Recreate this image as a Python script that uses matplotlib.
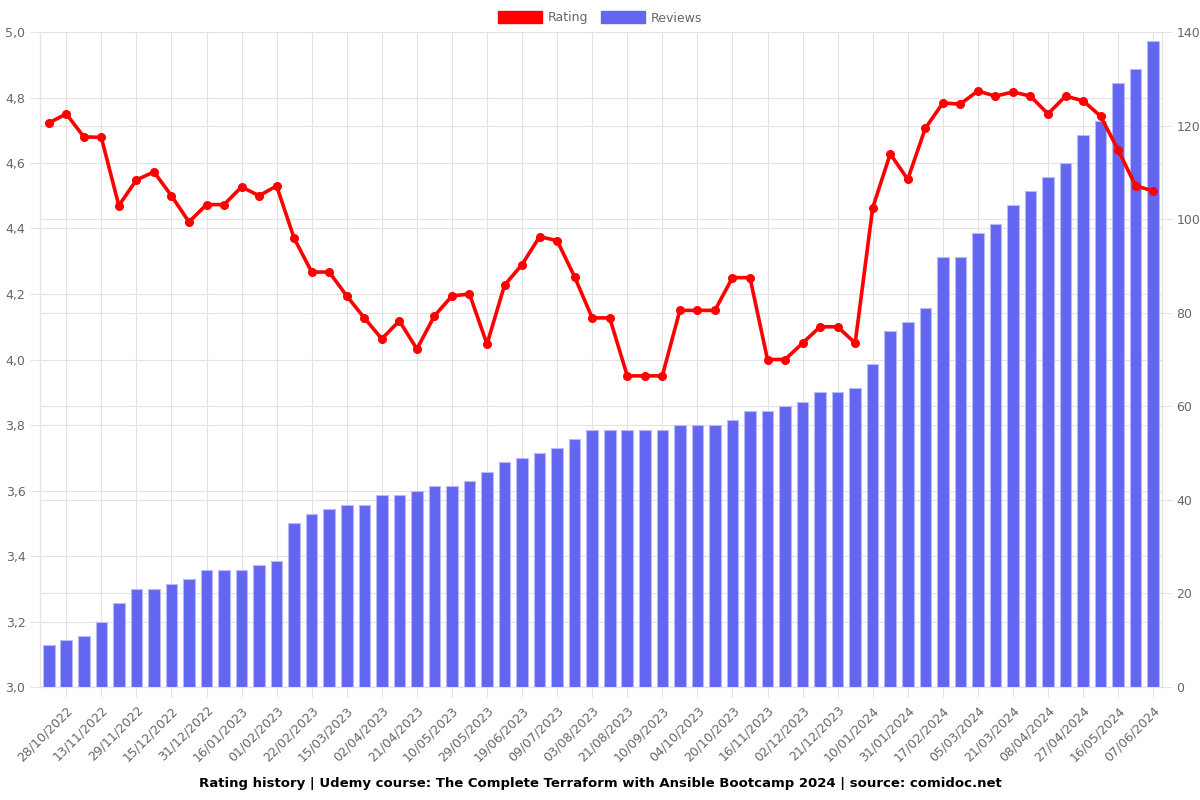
import numpy as np
import matplotlib
matplotlib.use('Agg')
import matplotlib.pyplot as plt
from matplotlib.patches import Patch
from matplotlib.ticker import FuncFormatter, MultipleLocator

# dates shown on the x axis (every second point carries a label)
TICK_DATES = ['28/10/2022', '13/11/2022', '29/11/2022', '15/12/2022', '31/12/2022', '16/01/2023',
              '01/02/2023', '22/02/2023', '15/03/2023', '02/04/2023', '21/04/2023', '10/05/2023',
              '29/05/2023', '19/06/2023', '09/07/2023', '03/08/2023', '21/08/2023', '10/09/2023',
              '04/10/2023', '20/10/2023', '16/11/2023', '02/12/2023', '21/12/2023', '10/01/2024',
              '31/01/2024', '17/02/2024', '05/03/2024', '21/03/2024', '08/04/2024', '27/04/2024',
              '16/05/2024', '07/06/2024']

RATING = [4.722, 4.75, 4.68, 4.678, 4.47, 4.548, 4.573, 4.50, 4.42, 4.473, 4.473, 4.527, 4.50, 4.53,
          4.37, 4.267, 4.267, 4.194, 4.127, 4.063, 4.118, 4.032, 4.133, 4.194, 4.20, 4.047, 4.227,
          4.29, 4.375, 4.363, 4.252, 4.127, 4.127, 3.95, 3.95, 3.95, 4.15, 4.15, 4.15, 4.25, 4.25,
          4.0, 4.0, 4.05, 4.10, 4.10, 4.05, 4.463, 4.628, 4.55, 4.706, 4.783, 4.78, 4.82, 4.804,
          4.817, 4.804, 4.75, 4.804, 4.79, 4.743, 4.64, 4.53, 4.515]

REVIEWS = [9, 10, 11, 14, 18, 21, 21, 22, 23, 25, 25, 25, 26, 27, 35, 37, 38, 39, 39, 41, 41, 42,
           43, 43, 44, 46, 48, 49, 50, 51, 53, 55, 55, 55, 55, 55, 56, 56, 56, 57, 59, 59, 60, 61,
           63, 63, 64, 69, 76, 78, 81, 92, 92, 97, 99, 103, 106, 109, 112, 118, 121, 129, 132,
           138]

TITLE = 'Rating history | Udemy course: The Complete Terraform with Ansible Bootcamp 2024 | source: comidoc.net'

RED = '#ff0000'
BLUE = '#6366f1'
GRID = '#e3e3e3'
TXT = '#666666'
#=============================================
x = np.arange(len(RATING))

fig = plt.figure(figsize=(12, 8), dpi=100)
ax = fig.add_axes([0.0333, 0.14125, 0.935, 0.81875])
axb = ax.twinx()
axl = ax.twinx()

# rating scale (left) + vertical grid
ax.set_xlim(-0.5, len(x) - 0.5)
ax.set_ylim(3.0, 5.0)
ax.yaxis.set_major_locator(MultipleLocator(0.2))
ax.yaxis.set_major_formatter(FuncFormatter(lambda v, p: f'{v:.1f}'.replace('.', ',')))
ax.set_xticks(x[1::2])
ax.set_xticklabels(TICK_DATES, rotation=45, ha='right', rotation_mode='anchor')
ax.grid(True, color=GRID, lw=0.8)
ax.tick_params(colors=GRID, labelcolor=TXT, labelsize=9, length=7)
ax.tick_params(axis='x', pad=5)

# reviews (right)
axb.bar(x, REVIEWS, width=0.66, color=BLUE, edgecolor='#b9bbf8', linewidth=0.8, zorder=3)
axb.set_ylim(0, 140)
axb.yaxis.set_major_locator(MultipleLocator(20))
axb.grid(True, axis='y', color=GRID, lw=0.8)
axb.set_axisbelow(True)
axb.tick_params(colors=GRID, labelcolor=TXT, labelsize=9, length=7)

# rating line on top
axl.plot(x, RATING, color=RED, lw=2.6, marker='o', ms=5.5, zorder=5)
axl.set_ylim(3.0, 5.0)
axl.axis('off')

for a in (ax, axb):
    for s in a.spines.values():
        s.set_color(GRID)
    a.spines['top'].set_visible(False)

fig.legend(handles=[Patch(color=RED, label='Rating'), Patch(color=BLUE, label='Reviews')],
           loc='upper center', bbox_to_anchor=(0.5, 1.0), ncol=2, frameon=False,
           handlelength=3.5, handleheight=1.1, fontsize=9, labelcolor=TXT,
           columnspacing=1.0, handletextpad=0.5)

fig.text(0.5, 0.021, TITLE, ha='center', va='center', fontsize=9.5, fontweight='bold')

plt.savefig('out.png')
